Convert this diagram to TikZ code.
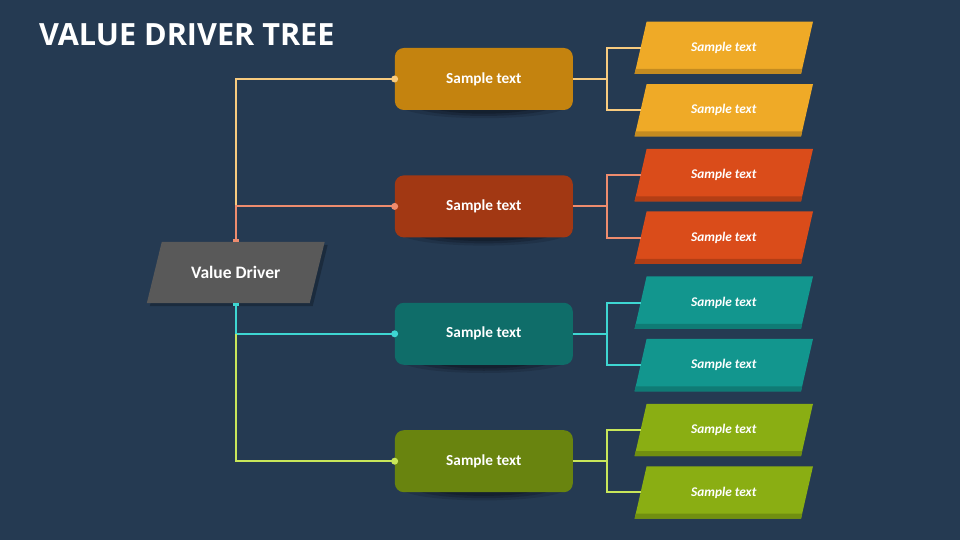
\documentclass[tikz,border=0pt]{standalone}
\usepackage{fontspec}
\setmainfont{Carlito}
\newfontfamily\titlefont{Open Sans}
\usetikzlibrary{calc}
\pgfdeclarelayer{bg}
\pgfdeclarelayer{shapes}
\pgfsetlayers{bg,shapes,main}
\definecolor{bgc}{HTML}{253A52}
\definecolor{vdc}{HTML}{595959}
\definecolor{box1}{HTML}{C4830F}
\definecolor{box2}{HTML}{A23813}
\definecolor{box3}{HTML}{0F6D69}
\definecolor{box4}{HTML}{69840F}
\definecolor{para1}{HTML}{EFAA27}
\definecolor{para2}{HTML}{DA4C1A}
\definecolor{para3}{HTML}{12968E}
\definecolor{para4}{HTML}{8AAE13}
\definecolor{line1}{HTML}{F8CB7F}
\definecolor{line2}{HTML}{EE8C6E}
\definecolor{line3}{HTML}{3ED6D2}
\definecolor{line4}{HTML}{C8E65A}
\newcommand\parafill[3]{%
  \fill[#2] ($(#1.north west)+(6,0)$) -- ($(#1.north east)+(6,0)$) -- ($(#1.south east)+(-6,0)$) -- ($(#1.south west)+(-6,0)$) -- cycle;
  \fill[#3] ($(#1.south west)+(-6,0)$) -- ($(#1.south east)+(-6,0)$) -- ($(#1.south east)+(-4.85,-5)$) -- ($(#1.south west)+(-4.85,-5)$) -- cycle;}
\begin{document}
\begin{tikzpicture}[x=1pt,y=-1pt,
  conn/.style={line width=2pt},
  midbox/.style={rounded corners=9pt, minimum width=178pt, minimum height=62pt, inner sep=0pt, text=white, font=\fontsize{15.3}{18}\selectfont\bfseries},
  parabox/.style={minimum width=166pt, minimum height=52pt, inner sep=0pt, text=white, font=\fontsize{13.3}{16}\selectfont\bfseries\itshape},
  vdbox/.style={minimum width=162.5pt, minimum height=61pt, inner sep=0pt, text=white, font=\fontsize{17.5}{20}\selectfont\bfseries},
  dotnode/.style={circle, inner sep=0pt, minimum size=7pt},
  marker/.style={inner sep=0pt, minimum width=6pt, minimum height=3pt}
]
\useasboundingbox (0,0) rectangle (960,540);
\begin{pgfonlayer}{bg}
  \fill[bgc] (0,0) rectangle (960,540);
\end{pgfonlayer}

\node[anchor=base west, inner sep=0pt, text=white, font=\titlefont\bfseries\fontsize{30.6}{36}\selectfont] (title) at (39,45.3) {VALUE DRIVER TREE};

\node[vdbox] (vd) at (235.75,272.5) {Value Driver};

\foreach \i in {1,2,3,4}{
  \pgfmathsetmacro\yy{79+127.4*(\i-1)}
  \node[midbox, fill=box\i] (b\i) at (483.85,\yy) {Sample text};
  \node[parabox] (p\i a) at (723.8,\yy-31.25) {Sample text};
  \node[parabox] (p\i b) at (723.8,\yy+31.25) {Sample text};
}

\begin{pgfonlayer}{shapes}
  % value driver shadow and body
  \fill[black,opacity=0.25] ($(vd.north west)+(10.5,3)$) -- ($(vd.north east)+(10.5,3)$) -- ($(vd.south east)+(-4.5,3)$) -- ($(vd.south west)+(-4.5,3)$) -- cycle;
  \fill[vdc] ($(vd.north west)+(7.5,0)$) -- ($(vd.north east)+(7.5,0)$) -- ($(vd.south east)+(-7.5,0)$) -- ($(vd.south west)+(-7.5,0)$) -- cycle;
  \foreach \i in {1,2,3,4}{
    \fill[black,opacity=0.12] ($(b\i.south)+(-84,-4)$) .. controls +(12,16) and +(-12,16) .. ($(b\i.south)+(84,-4)$) -- cycle;
    \fill[black,opacity=0.18] ($(b\i.south)+(-70,-4)$) .. controls +(12,13) and +(-12,13) .. ($(b\i.south)+(70,-4)$) -- cycle;
    \fill[black,opacity=0.2] ($(b\i.south)+(-55,-4)$) .. controls +(12,10) and +(-12,10) .. ($(b\i.south)+(55,-4)$) -- cycle;
    \parafill{p\i a}{para\i}{para\i!82!black}
    \parafill{p\i b}{para\i}{para\i!82!black}
  }
\end{pgfonlayer}

% trunk connectors
\draw[conn,line1] (b1.west) -| (vd.north |- b2.west);
\draw[conn,line2] (b2.west) -| (vd.north);
\draw[conn,line3] (vd.south) |- (b3.west);
\draw[conn,line4] (vd.south |- b3.west) |- (b4.west);
\node[marker, fill=line2, anchor=south] (m1) at (vd.north) {};
\node[marker, fill=line3, anchor=north] (m2) at (vd.south) {};

\foreach \i in {1,2,3,4}{
  \node[dotnode, fill=line\i] (d\i) at (b\i.west) {};
  \coordinate (j\i) at ($(b\i.east)+(34,0)$);
  \draw[conn,line\i] (b\i.east) -- (j\i);
  \draw[conn,line\i] (j\i) |- (p\i a.west);
  \draw[conn,line\i] (j\i) |- (p\i b.west);
}
\end{tikzpicture}
\end{document}
